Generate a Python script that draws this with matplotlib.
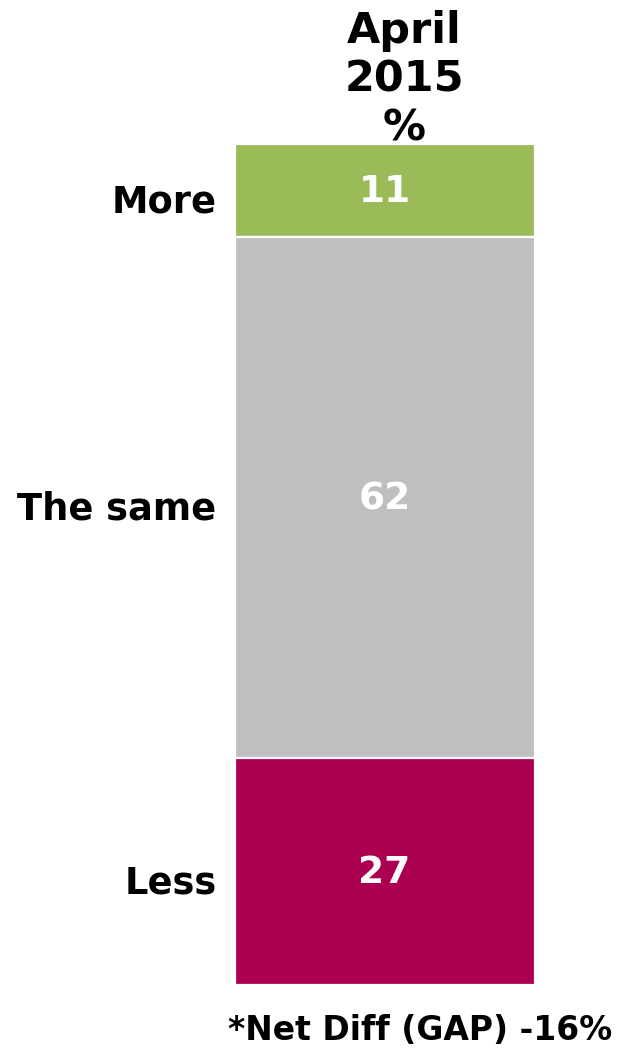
import matplotlib.pyplot as plt
import matplotlib.transforms as mtransforms

# survey answers, April 2015
categories = ["More", "The same", "Less"]
values = [11, 62, 27]
colors = ["#9BBB59", "#BFBFBF", "#AC0053"]
column_title = "April\n2015\n%"
footnote = "*Net Diff (GAP) -16%"

plt.rcParams['font.family'] = ['DejaVu Sans']
plt.rcParams['font.weight'] = 'bold'

fig = plt.figure(figsize=(6.18, 10.5), dpi=100)
ax = fig.add_axes([234.5 / 618, 1 - 985 / 1050, 300 / 618, 841 / 1050])

# stacked single column, first answer on top
bottom = 0
for cat, val, col in zip(categories, values, colors):
    ax.bar(0, val, bottom=bottom, width=1.0, color=col,
           edgecolor="white", linewidth=1.6)
    mid = bottom + val / 2
    # value numbers sit slightly low in each segment
    voff = mtransforms.offset_copy(ax.transData, fig=fig, x=0, y=-2, units="dots")
    ax.text(0, mid, str(val), ha="center", va="center",
            color="white", fontsize=27, fontweight="bold", transform=voff)
    off = mtransforms.offset_copy(ax.transData, fig=fig, x=0, y=-12, units="dots")
    ax.text(-0.56, mid, cat, ha="right", va="center", color="black",
            fontsize=26.5, fontweight="bold", transform=off)
    bottom += val

ax.set_xlim(-0.5, 0.5)
ax.set_ylim(100, 0)
ax.axis("off")

fig.text(404 / 618, 1 - 80 / 1050, column_title, ha="center", va="center",
         fontsize=31, fontweight="bold", linespacing=1.2)
fig.text(612 / 618, 1 - 1030 / 1050, footnote, ha="right", va="center",
         fontsize=23.8, fontweight="bold")

fig.savefig("out.png", dpi=100)
